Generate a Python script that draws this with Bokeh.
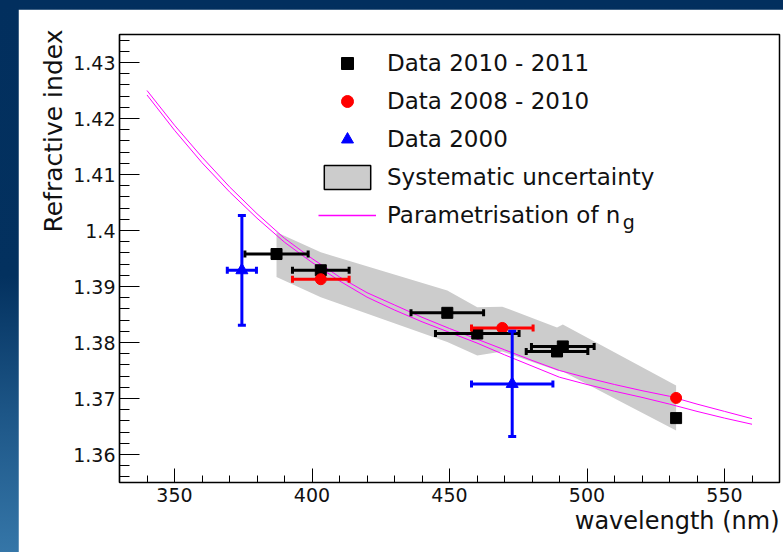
import math
import numpy as np
from bokeh.plotting import figure
from bokeh.models import (Range1d, FixedTicker, Whisker, TeeHead, ColumnDataSource,
                          Legend, LegendItem, Label, Title)
from bokeh.layouts import column
from bokeh.embed import file_html
from bokeh.resources import INLINE

# ---------------- data ----------------
# Data 2010 - 2011 (black squares)
wl_2011 = [387.1, 403.2, 449.2, 460.1, 489.1, 491.2, 532.4]
n_2011 = [1.3958, 1.3929, 1.3853, 1.3816, 1.3784, 1.3793, 1.3665]
wlerr_2011 = [11.5, 10.3, 13.2, 15.2, 11.2, 11.4, 0.0]

# Data 2008 - 2010 (red circles)
wl_2010 = [403.2, 469.2, 532.4]
n_2010 = [1.3913, 1.3826, 1.3701]
wlerr_2010 = [10.3, 11.2, 0.0]

# Data 2000 (blue triangles)
wl_2000 = [374.5, 472.8]
n_2000 = [1.3929, 1.3726]
wlerr_2000 = [5.3, 14.8]
nerr_2000 = [0.0098, 0.0094]

# Systematic uncertainty band
band_wl = [387.1, 403.2, 449.2, 460.1, 469.2, 489.1, 491.2, 532.4]
band_up = [1.3997, 1.3961, 1.3893, 1.3863, 1.3864, 1.3827, 1.3832, 1.3723]
band_lo = [1.3917, 1.3881, 1.3801, 1.3777, 1.3784, 1.3750, 1.3748, 1.3643]

# Parametrisation of n_g (two curves)
par_wl = [340, 350, 360, 370, 380, 390, 400, 410, 420, 430, 440, 450, 460, 470,
          480, 490, 500, 510, 520, 530, 540, 550, 560]
par_a = [1.4250, 1.4188, 1.4131, 1.4078, 1.4030, 1.3986, 1.3950, 1.3917, 1.3889,
         1.3867, 1.3845, 1.3825, 1.3806, 1.3787, 1.3768, 1.3750, 1.3737, 1.3725,
         1.3714, 1.3704, 1.3690, 1.3677, 1.3664]
par_b = [1.4242, 1.4179, 1.4121, 1.4069, 1.4022, 1.3979, 1.3943, 1.3910, 1.3881,
         1.3858, 1.3837, 1.3818, 1.3799, 1.3778, 1.3758, 1.3738, 1.3725, 1.3713,
         1.3702, 1.3690, 1.3677, 1.3665, 1.3654]

# axis ticks
x_ticks = [350, 400, 450, 500, 550]
y_ticks = [1.36, 1.37, 1.38, 1.39, 1.40, 1.41, 1.42, 1.43]
y_tick_labels = ["1.36", "1.37", "1.38", "1.39", "1.4", "1.41", "1.42", "1.43"]

FONT = "DejaVu Sans"
NAN = float("nan")

# ---------------- figure ----------------
p = figure(width=765, height=543, x_range=Range1d(330, 570), y_range=Range1d(1.355, 1.435),
           output_backend="svg", toolbar_location=None,
           min_border_left=101, min_border_right=4, min_border_top=25, min_border_bottom=70)
p.margin = (9, 0, 0, 18)
p.background_fill_color = "white"
p.border_fill_color = "white"
p.grid.visible = False
p.outline_line_color = "black"
p.outline_line_width = 1.5

x_minor = [float(v) for v in np.arange(330, 571, 10)]
y_minor = [round(float(v), 3) for v in np.arange(1.356, 1.4345, 0.002)]

xa = p.xaxis[0]
xa.ticker = FixedTicker(ticks=x_ticks, minor_ticks=x_minor)
ya = p.yaxis[0]
ya.ticker = FixedTicker(ticks=y_ticks, minor_ticks=y_minor)
ya.major_label_overrides = {t: l for t, l in zip(y_ticks, y_tick_labels)}
for ax, mj, mn, st in ((xa, 14, 7, 5), (ya, 20, 10, 4)):
    ax.major_tick_in = mj
    ax.major_tick_out = 0
    ax.minor_tick_in = mn
    ax.minor_tick_out = 0
    ax.major_tick_line_color = "black"
    ax.minor_tick_line_color = "black"
    ax.axis_line_color = "black"
    ax.axis_line_width = 1.2
    ax.major_label_text_font = FONT
    ax.major_label_text_font_size = "19px"
    ax.major_label_text_color = "#111111"
    ax.major_label_standoff = st

# axis titles (right / top aligned, as in the original)
p.add_layout(Title(text="Refractive index", align="right", standoff=5, offset=-5,
                   text_font=FONT, text_font_size="25px", text_font_style="normal",
                   text_color="#111111"), "left")
p.add_layout(Title(text="wavelength (nm)", align="right", standoff=0,
                   text_font=FONT, text_font_size="24px", text_font_style="normal",
                   text_color="#111111"), "below")

# band
band_x = band_wl + band_wl[::-1]
band_y = band_up + band_lo[::-1]
band = p.patch(band_x, band_y, fill_color="#cccccc", line_color=None, level="underlay")

# parametrisation curves
la = p.line(par_wl, par_a, line_color="#ff00ff", line_width=1, level="underlay")
lb = p.line(par_wl, par_b, line_color="#ff00ff", line_width=1, level="underlay")


def xwhisk(wl, n, err, color):
    idx = [i for i, e in enumerate(err) if e > 0]
    src = ColumnDataSource(dict(base=[n[i] for i in idx],
                                lo=[wl[i] - err[i] for i in idx],
                                hi=[wl[i] + err[i] for i in idx]))
    w = Whisker(source=src, base="base", lower="lo", upper="hi", dimension="width",
                line_color=color, line_width=3, level="glyph",
                lower_head=TeeHead(size=7, line_color=color, line_width=3),
                upper_head=TeeHead(size=7, line_color=color, line_width=3))
    p.add_layout(w)


xwhisk(wl_2011, n_2011, wlerr_2011, "black")
xwhisk(wl_2010, n_2010, wlerr_2010, "#ff0000")
xwhisk(wl_2000, n_2000, wlerr_2000, "#0000ff")

ysrc = ColumnDataSource(dict(base=wl_2000,
                             lo=[n - e for n, e in zip(n_2000, nerr_2000)],
                             hi=[n + e for n, e in zip(n_2000, nerr_2000)]))
p.add_layout(Whisker(source=ysrc, base="base", lower="lo", upper="hi", dimension="height",
                     line_color="#0000ff", line_width=3, level="glyph",
                     lower_head=TeeHead(size=8, line_color="#0000ff", line_width=3),
                     upper_head=TeeHead(size=8, line_color="#0000ff", line_width=3)))

sq = p.scatter(wl_2011, n_2011, marker="square", size=11, fill_color="black", line_color="black")
ci = p.scatter(wl_2010, n_2010, marker="circle", size=11, fill_color="#ff0000", line_color="#ff0000")
tr = p.scatter(wl_2000, n_2000, marker="triangle", size=12, fill_color="#0000ff", line_color="#0000ff")

# legend-only proxy renderers (NaN coordinates: not drawn in the plot)
band_leg = p.quad(left=[NAN], right=[NAN], top=[NAN], bottom=[NAN], fill_color="#cccccc",
                  line_color="black", line_width=1.5)
line_leg = p.line(x=[NAN, NAN], y=[NAN, NAN], line_color="#ff00ff", line_width=1.4)

legend = Legend(items=[
    LegendItem(label="Data 2010 - 2011", renderers=[sq]),
    LegendItem(label="Data 2008 - 2010", renderers=[ci]),
    LegendItem(label="Data 2000", renderers=[tr]),
    LegendItem(label="Systematic uncertainty", renderers=[band_leg]),
    LegendItem(label="Parametrisation of n", renderers=[line_leg]),
], location=(199, 252), orientation="vertical")
legend.glyph_width = 58
legend.glyph_height = 30
legend.label_standoff = 11
legend.spacing = 8
legend.padding = 0
legend.margin = 0
legend.border_line_alpha = 0
legend.background_fill_alpha = 0
legend.label_text_font = FONT
legend.label_text_font_size = "23px"
legend.label_text_color = "#111111"
legend.label_height = 30
p.add_layout(legend)

p.add_layout(Label(x=513.0, y=1.40150, text="g", text_font=FONT, text_font_size="19px",
                   text_color="#111111", text_baseline="alphabetic"))

grad = "linear-gradient(180deg, #022f5e 0%, #03315f 50%, #1d5687 75%, #3576a8 100%)"
layout = column(p, width=783, height=552, styles={"background": grad})

open("out.html", "w").write(file_html(layout, INLINE))
